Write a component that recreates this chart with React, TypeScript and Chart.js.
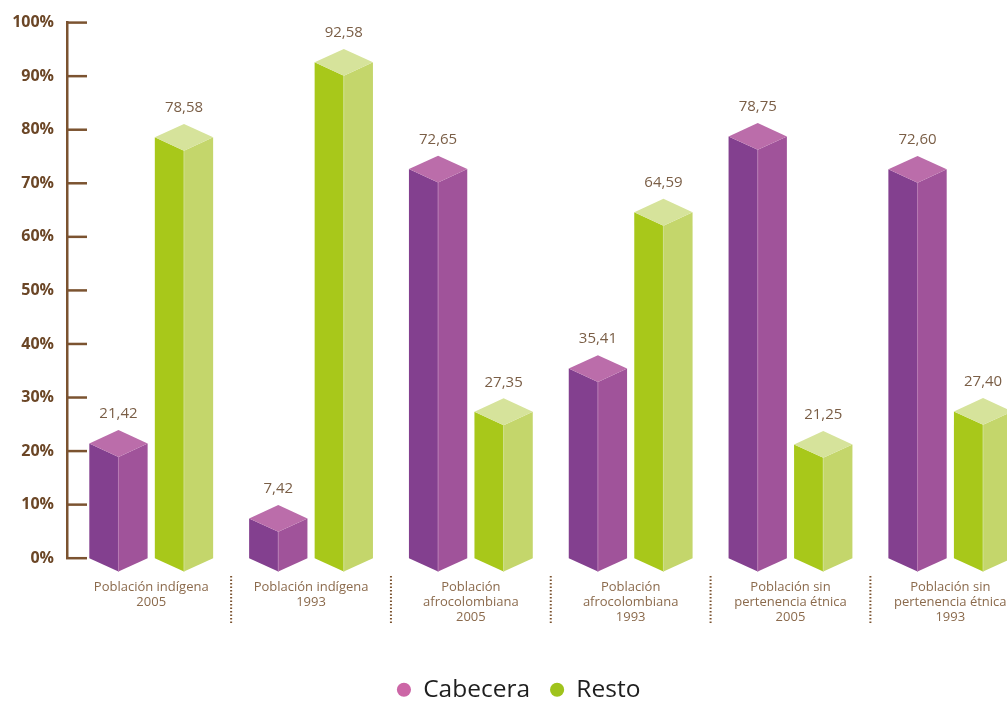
import React, { useEffect, useRef } from "react";
import { Chart, registerables } from "chart.js";

Chart.register(...registerables);

const categories: string[][] = [
  ["Población indígena", "2005"],
  ["Población indígena", "1993"],
  ["Población", "afrocolombiana", "2005"],
  ["Población", "afrocolombiana", "1993"],
  ["Población sin", "pertenencia étnica", "2005"],
  ["Población sin", "pertenencia étnica", "1993"],
];
const cabecera = [21.42, 7.42, 72.65, 35.41, 78.75, 72.6];
const resto = [78.58, 92.58, 27.35, 64.59, 21.25, 27.4];
const yTicks = [0, 10, 20, 30, 40, 50, 60, 70, 80, 90, 100];
const xIndex = categories.map((_, i) => i);

const FONT = "'Open Sans', 'Noto Sans', sans-serif";
const AXIS = "#7b5330";
const palettes = [
  { left: "#83408f", right: "#a0539a", top: "#bb6daa", edge: "#b77ab3" },
  { left: "#a8c81a", right: "#c4d66b", top: "#d6e39b", edge: "#cfe08a" },
];

const box3d = {
  id: "box3d",
  beforeDatasetDraw() {
    return false;
  },
  afterDatasetsDraw(chart: any) {
    const ctx = chart.ctx;
    chart.data.datasets.forEach((ds: any, di: number) => {
      const meta = chart.getDatasetMeta(di);
      const pal = palettes[di];
      meta.data.forEach((bar: any, i: number) => {
        const { x, y, base, width } = bar.getProps(["x", "y", "base", "width"], true);
        const l = x - width / 2;
        const r = x + width / 2;
        const d = width * 0.23;
        ctx.save();
        ctx.fillStyle = pal.left;
        ctx.beginPath();
        ctx.moveTo(l, y);
        ctx.lineTo(x, y + d);
        ctx.lineTo(x, base + d);
        ctx.lineTo(l, base);
        ctx.closePath();
        ctx.fill();
        ctx.fillStyle = pal.right;
        ctx.beginPath();
        ctx.moveTo(x, y + d);
        ctx.lineTo(r, y);
        ctx.lineTo(r, base);
        ctx.lineTo(x, base + d);
        ctx.closePath();
        ctx.fill();
        ctx.fillStyle = pal.top;
        ctx.beginPath();
        ctx.moveTo(l, y);
        ctx.lineTo(x, y - d);
        ctx.lineTo(r, y);
        ctx.lineTo(x, y + d);
        ctx.closePath();
        ctx.fill();
        // subtle front edge highlight
        ctx.strokeStyle = pal.edge;
        ctx.lineWidth = 1;
        ctx.beginPath();
        ctx.moveTo(x, y + d);
        ctx.lineTo(x, base + d);
        ctx.stroke();
        const v = ds.data[i].y as number;
        ctx.fillStyle = "#7a5e46";
        ctx.font = `15px ${FONT}`;
        ctx.textAlign = "center";
        ctx.textBaseline = "middle";
        ctx.fillText(v.toFixed(2).replace(".", ","), x, y - d - 16);
        ctx.restore();
      });
    });
  },
  afterDraw(chart: any) {
    const ctx = chart.ctx;
    const ys = chart.scales.y;
    const xs = chart.scales.x;
    const left = chart.chartArea.left;
    ctx.save();
    ctx.strokeStyle = AXIS;
    ctx.lineWidth = 2.5;
    ys.ticks.forEach((t: any) => {
      const py = ys.getPixelForValue(t.value);
      ctx.beginPath();
      ctx.moveTo(left - 1, py);
      ctx.lineTo(left + 20, py);
      ctx.stroke();
    });
    ctx.lineWidth = 2;
    ctx.setLineDash([1.5, 2]);
    for (let i = 0; i < categories.length - 1; i++) {
      const px = xs.getPixelForValue(i + 0.5);
      ctx.beginPath();
      ctx.moveTo(px, 576);
      ctx.lineTo(px, 623);
      ctx.stroke();
    }
    ctx.restore();
  },
};

export default function App() {
  const ref = useRef<HTMLCanvasElement | null>(null);
  useEffect(() => {
    if (!ref.current) return;
    const chart = new Chart(ref.current, {
      type: "bar",
      data: {
        datasets: [
          {
            label: "Cabecera",
            data: cabecera.map((v, i) => ({ x: xIndex[i], y: v })),
            backgroundColor: "#cc66a6",
            borderWidth: 0,
            categoryPercentage: 0.82,
            barPercentage: 0.89,
          },
          {
            label: "Resto",
            data: resto.map((v, i) => ({ x: xIndex[i], y: v })),
            backgroundColor: "#9fc31c",
            borderWidth: 0,
            categoryPercentage: 0.82,
            barPercentage: 0.89,
          },
        ],
      },
      options: {
        animation: false,
        responsive: false,
        devicePixelRatio: 1,
        layout: { padding: { top: 20.7, left: 13, right: 25.7, bottom: 0 } },
        plugins: {
          tooltip: { enabled: false },
          legend: {
            position: "bottom",
            labels: {
              usePointStyle: true,
              pointStyle: "circle",
              boxWidth: 14,
              boxHeight: 10,
              padding: 20,
              color: "#1e1e1e",
              font: { family: FONT, size: 24.5 },
            },
          },
        },
        scales: {
          x: {
            type: "linear",
            min: -0.527,
            max: 5.463,
            offset: false,
            afterBuildTicks: (s: any) => {
              s.ticks = xIndex.map((v) => ({ value: v }));
            },
            grid: { display: false, drawTicks: false },
            border: { display: false },
            ticks: {
              autoSkip: false,
              maxRotation: 0,
              padding: 22,
              color: "#8b6a4c",
              font: { family: FONT, size: 13, lineHeight: 1.15 },
              callback: (v: any) => categories[Math.round(v)] ?? "",
            },
            afterFit: (s: any) => {
              s.height = 99.3;
            },
          },
          y: {
            min: 0,
            max: 100,
            afterBuildTicks: (s: any) => {
              s.ticks = yTicks.map((v) => ({ value: v }));
            },
            grid: { display: false, drawTicks: false },
            border: { display: true, color: AXIS, width: 2.5 },
            ticks: {
              padding: 13,
              color: "#6b4626",
              font: { family: FONT, size: 16, weight: "bold" },
              callback: (v: any) => v + "%",
            },
            afterFit: (s: any) => {
              s.width = 54;
            },
          },
        },
      },
      plugins: [box3d],
    });
    return () => chart.destroy();
  }, []);
  return (
    <div style={{ position: "fixed", left: 0, top: 0, width: 1007, height: 702, overflow: "hidden", background: "#fff" }}>
      <canvas ref={ref} width={1050} height={712} style={{ width: 1050, height: 712, display: "block" }} />
    </div>
  );
}
